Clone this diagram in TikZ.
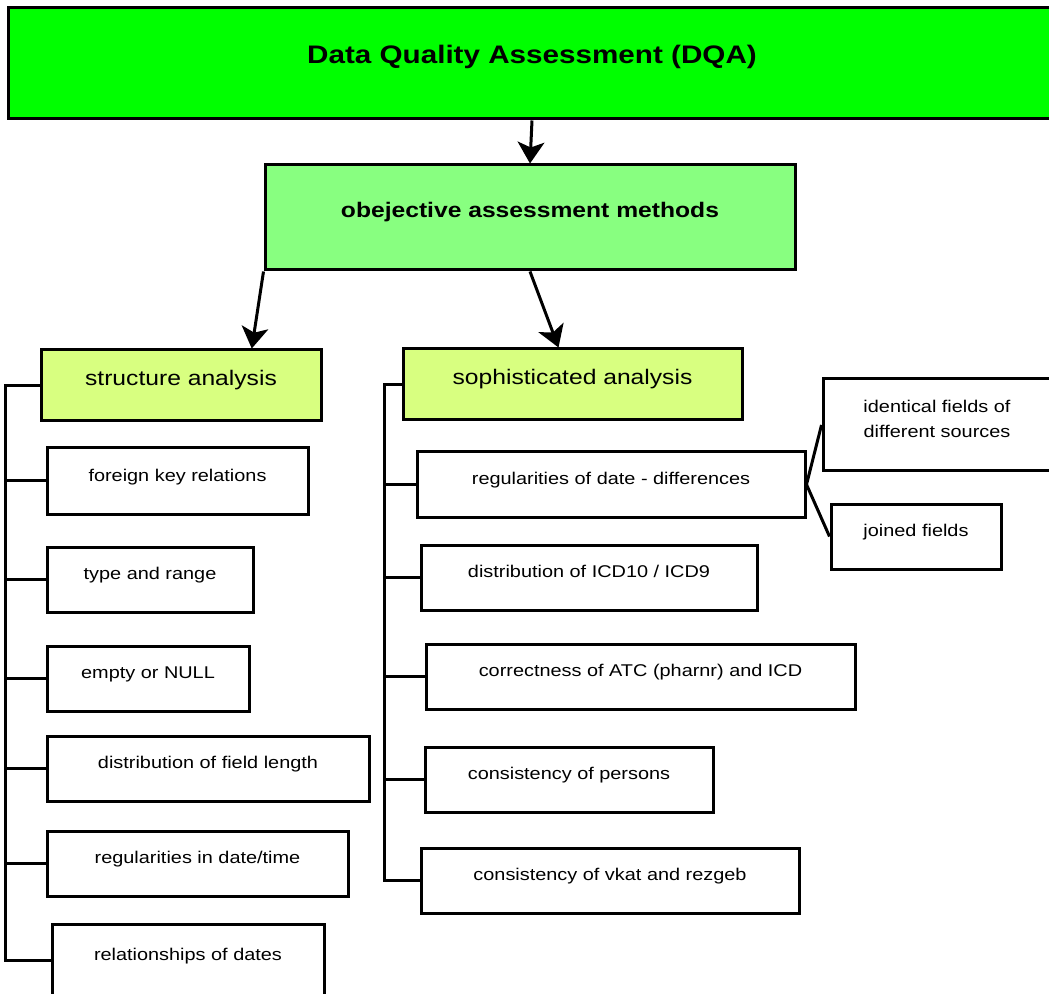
\documentclass[tikz,border=0pt]{standalone}
\usepackage{fontspec}
\setmainfont{Liberation Sans}
\newfontfamily\wideArial[FakeStretch=1.17]{Liberation Sans}
\usetikzlibrary{arrows.meta,fit,calc}
\definecolor{dqagreen}{RGB}{0,255,0}
\definecolor{objgreen}{RGB}{136,255,128}
\definecolor{subgreen}{RGB}{216,255,128}
\tikzset{
  box/.style={draw=black, line width=2.25pt, inner sep=0pt, fill=white},
  txt/.style={anchor=base, inner sep=0pt, font=\wideArial\fontsize{12.75pt}{19pt}\selectfont},
  bigtxt/.style={anchor=base, inner sep=0pt, font=\wideArial\fontsize{15.8pt}{19pt}\selectfont},
  link/.style={draw=black, line width=2.25pt},
  arr/.style={link, -{Stealth[length=16pt,width=20pt,inset=4pt]}}
}
\begin{document}
\begin{tikzpicture}[x=0.75pt,y=-0.75pt]
\useasboundingbox (0,0) rectangle (1049,994);
\clip (0,0) rectangle (1049,994);
% main boxes
\node[box, fill=dqagreen, fit={(8,8) (1056,119)}] (dqa) {};
\node[box, fill=objgreen, fit={(265,165) (795,270)}] (obj) {};
\node[box, fill=subgreen, fit={(41,350) (321,421)}] (struct) {};
\node[box, fill=subgreen, fit={(403,349) (742,420)}] (soph) {};
% left items
\node[box, fit={(47,448) (308,514)}] (l1) {};
\node[box, fit={(47,547) (253,612)}] (l2) {};
\node[box, fit={(47,646) (249,711)}] (l3) {};
\node[box, fit={(47,736) (369,801)}] (l4) {};
\node[box, fit={(47,831) (348,896)}] (l5) {};
\node[box, fit={(52,924) (324,996)}] (l6) {};
% right items
\node[box, fit={(417,452) (805,517)}] (r1) {};
\node[box, fit={(421,545) (757,610)}] (r2) {};
\node[box, fit={(426,644) (855,709)}] (r3) {};
\node[box, fit={(425,747) (713,812)}] (r4) {};
\node[box, fit={(421,848) (799,913)}] (r5) {};
% sub items
\node[box, fit={(823,379) (1051,471)}] (s1) {};
\node[box, fit={(831,504) (1001,569)}] (s2) {};
% texts
\node[anchor=base, inner sep=0pt, font=\wideArial\bfseries\fontsize{19pt}{23pt}\selectfont] (tdqa) at (dqa.center) {Data Quality Assessment (DQA)};
\node[anchor=base, inner sep=0pt, font=\wideArial\bfseries\fontsize{15.8pt}{19pt}\selectfont] (tobj) at (obj.center) {obejective assessment methods};
\node[bigtxt] (tstruct) at (struct.center) {structure analysis};
\node[bigtxt] (tsoph) at (soph.center) {sophisticated analysis};
\node[txt] (tl1) at (l1.center) {foreign key relations};
\node[txt] (tl2) at (l2.center) {type and range};
\node[txt] (tl3) at (l3.center) {empty or NULL};
\node[txt] (tl4) at (l4.center) {distribution of field length};
\node[txt] (tl5) at (l5.center) {regularities in date/time};
\node[txt] (tl6) at (l6.center) {relationships of dates};
\node[txt] (tr1) at (r1.center) {regularities of date - differences};
\node[txt] (tr2) at (r2.center) {distribution of ICD10 / ICD9};
\node[txt] (tr3) at (r3.center) {correctness of ATC (pharnr) and ICD};
\node[txt] (tr4) at (r4.center) {consistency of persons};
\node[txt] (tr5) at (r5.center) {consistency of vkat and rezgeb};
\node[txt, align=center] (ts1) at ($(s1.center)+(0,13)$) {identical fields of\\different sources};
\node[txt] (ts2) at (s2.center) {joined fields};
% arrows
\draw[arr] (dqa.south) -- (obj.north);
\draw[arr] (obj.south west) -- ($(struct.north west)!0.75!(struct.north east)$);
\draw[arr] (obj.south) -- ($(soph.north)+(-14,0)$);
% left trunk
\coordinate (lt) at ($(struct.west)+(-34,0)$);
\draw[link] (struct.west) -- (lt) |- (l6.west);
\foreach \n in {l1,l2,l3,l4,l5} \draw[link] (lt) |- (\n.west);
% right trunk
\coordinate (rt) at ($(soph.west)+(-17,0)$);
\draw[link] (soph.west) -- (rt) |- (r5.west);
\foreach \n in {r1,r2,r3,r4} \draw[link] (rt) |- (\n.west);
% sub links
\draw[link] (r1.east) -- (s1.west);
\draw[link] (r1.east) -- (s2.west);
\end{tikzpicture}
\end{document}
